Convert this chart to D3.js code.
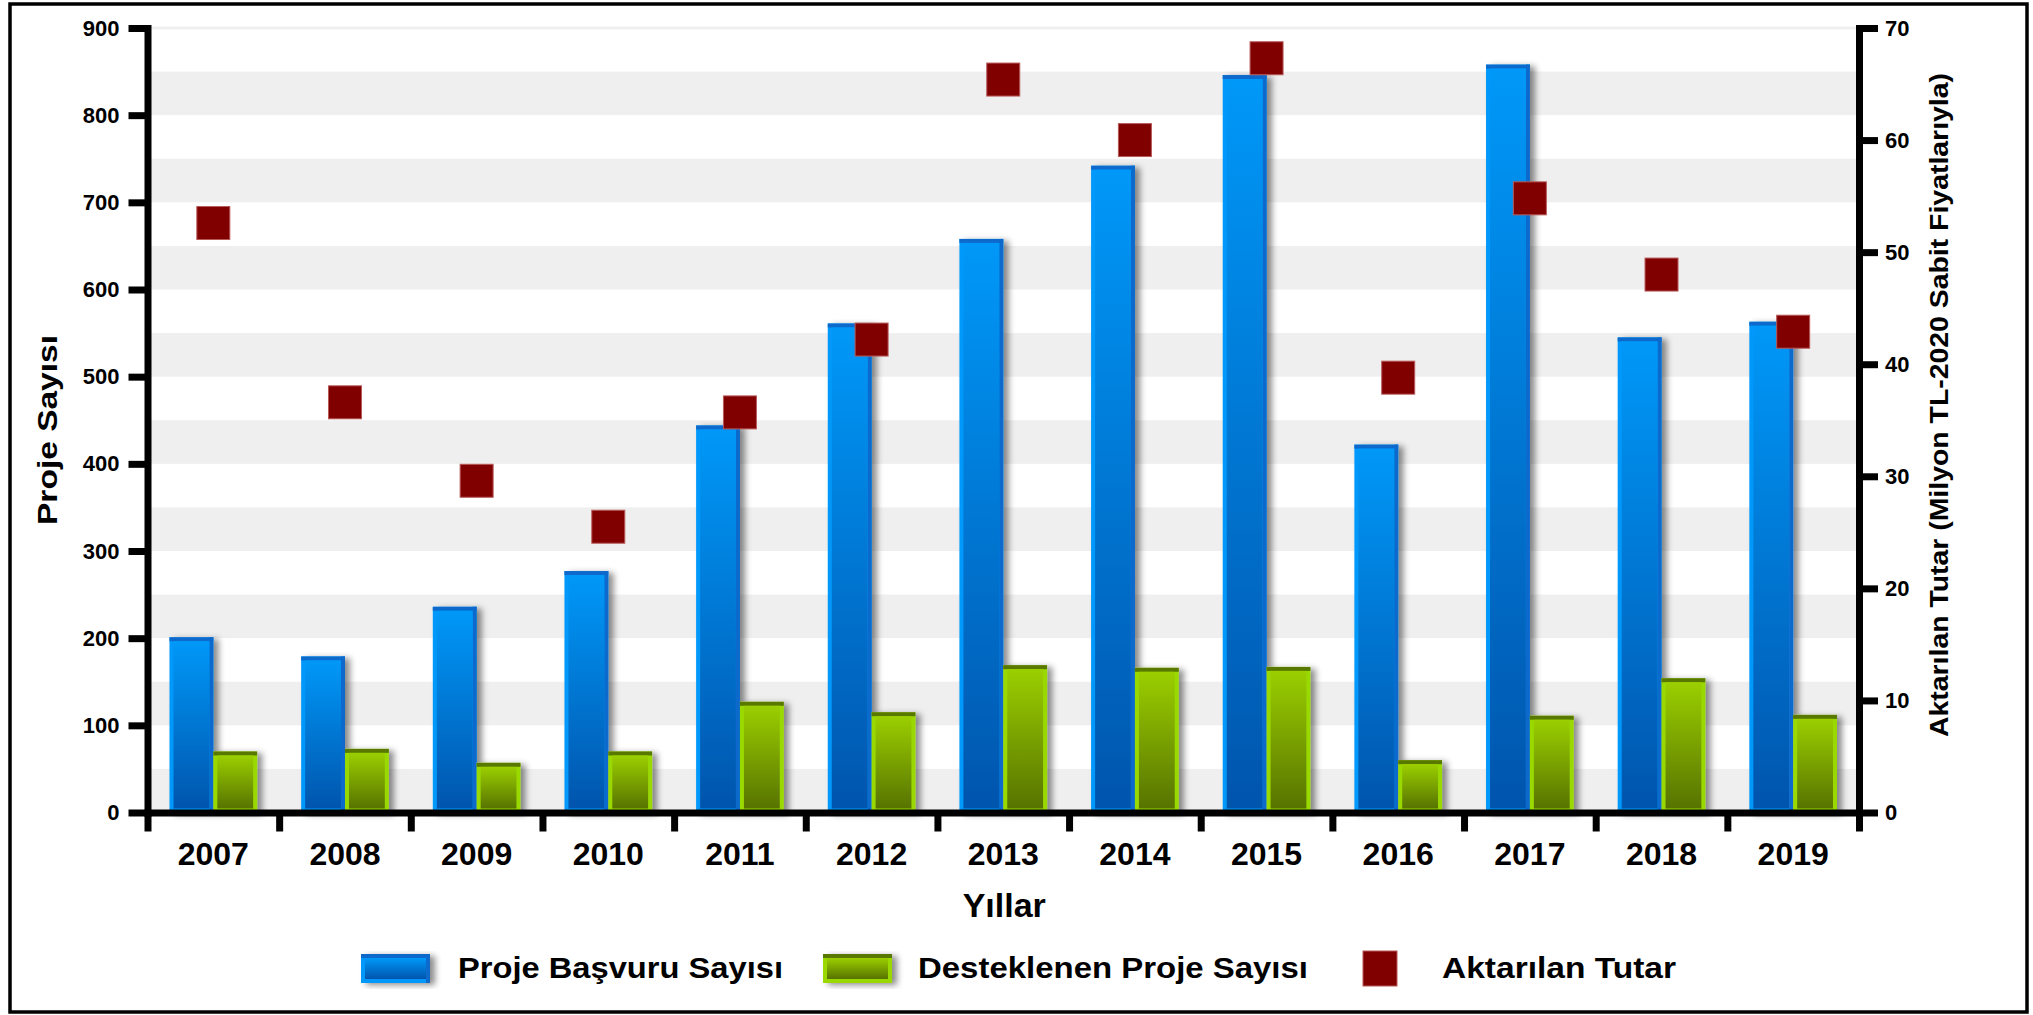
<!DOCTYPE html>
<html>
<head>
<meta charset="utf-8">
<script src="https://cdn.jsdelivr.net/npm/d3@7"></script>
<style>
  body { margin: 0; background: #fff; }
  text { font-family: "Liberation Sans", Arial, Helvetica, sans-serif; font-weight: bold; fill: #000; }
</style>
</head>
<body>
<div id="chart"></div>
<script>
// data
const years = ["2007", "2008", "2009", "2010", "2011", "2012", "2013", "2014", "2015", "2016", "2017", "2018", "2019"];
const basvuru = [201, 179, 236, 277, 444, 561, 658, 742, 846, 422, 858, 545, 563];
const desteklenen = [70, 73, 57, 70, 127, 115, 169, 166, 167, 60, 111, 154, 112];
const tutar = [52.6, 36.6, 29.6, 25.5, 35.7, 42.2, 65.4, 60.0, 67.3, 38.8, 54.8, 48.0, 42.9];
const leftTicks = [0, 100, 200, 300, 400, 500, 600, 700, 800, 900];
const rightTicks = [0, 10, 20, 30, 40, 50, 60, 70];
const seriesNames = ["Proje Başvuru Sayısı", "Desteklenen Proje Sayısı", "Aktarılan Tutar"];

const width = 2033, height = 1015;
const margin = {left: 147.5, right: 1859, top: 28, bottom: 812.5};

const svg = d3.select("#chart")
    .append("svg")
    .attr("width", width)
    .attr("height", height);

const defs = svg.append("defs");

// gradients for the bar bodies
const grads = [
    {id: "gBlue", top: "#0098f8", bottom: "#0055ad"},
    {id: "gGreen", top: "#9bcf00", bottom: "#577300"}
];
grads.forEach(g => {
    const lg = defs.append("linearGradient")
        .attr("id", g.id)
        .attr("x1", 0).attr("y1", 0).attr("x2", 0).attr("y2", 1);
    lg.append("stop").attr("offset", "0%").attr("stop-color", g.top);
    lg.append("stop").attr("offset", "100%").attr("stop-color", g.bottom);
});

const shadow = defs.append("filter")
    .attr("id", "shadow")
    .attr("x", "-20%").attr("y", "-10%")
    .attr("width", "150%").attr("height", "130%");
shadow.append("feDropShadow")
    .attr("dx", 5).attr("dy", 2)
    .attr("stdDeviation", 3)
    .attr("flood-color", "#000")
    .attr("flood-opacity", 0.45);

// scales
const x0 = d3.scaleBand()
    .domain(years)
    .range([margin.left, margin.right]);

const x1 = d3.scaleBand()
    .domain(["basvuru", "destek"])
    .range([22, x0.bandwidth() - 22]);

const yL = d3.scaleLinear()
    .domain([0, 900])
    .range([margin.bottom, margin.top]);

const yR = d3.scaleLinear()
    .domain([0, 70])
    .range([margin.bottom, margin.top]);

// background bands every 50
const bands = d3.range(0, 900, 100);
svg.append("g")
    .selectAll("rect")
    .data(bands)
    .enter()
    .append("rect")
    .attr("x", margin.left + 3)
    .attr("width", margin.right - margin.left - 6)
    .attr("y", d => yL(d + 50))
    .attr("height", d => yL(d) - yL(d + 50))
    .attr("fill", "#efefef");

svg.append("line")
    .attr("x1", margin.left + 3).attr("x2", margin.right - 3)
    .attr("y1", yL(900)).attr("y2", yL(900))
    .attr("stroke", "#efefef")
    .attr("stroke-width", 3);

// draws one bevelled bar
function bevelBar(g, x, y, w, h, kind) {
    const light = kind === "blue" ? "#0299fb" : "#9ad900";
    const dark = kind === "blue" ? "#0a6bcc" : "#587800";
    const b = 4;
    g.append("rect").attr("x", x).attr("y", y).attr("width", w).attr("height", h).attr("fill", light);
    g.append("rect").attr("x", x).attr("y", y).attr("width", w).attr("height", Math.min(b, h)).attr("fill", dark);
    if (kind === "blue") {
        g.append("rect").attr("x", x + w - b).attr("y", y).attr("width", b).attr("height", h).attr("fill", dark);
    }
    if (h > 2 * b) {
        g.append("rect")
            .attr("x", x + b).attr("y", y + b)
            .attr("width", w - 2 * b).attr("height", h - 2 * b)
            .attr("fill", kind === "blue" ? "url(#gBlue)" : "url(#gGreen)");
    }
}

const barsGroup = svg.append("g").attr("filter", "url(#shadow)");

years.forEach((yr, i) => {
    const g = barsGroup.append("g");
    bevelBar(g, x0(yr) + x1("basvuru"), yL(basvuru[i]), x1.bandwidth(), margin.bottom - yL(basvuru[i]), "blue");
    bevelBar(g, x0(yr) + x1("destek"), yL(desteklenen[i]), x1.bandwidth(), margin.bottom - yL(desteklenen[i]), "green");
});

// amount markers
const sq = 33;
svg.append("g")
    .selectAll("rect")
    .data(tutar)
    .enter()
    .append("rect")
    .attr("x", (d, i) => x0(years[i]) + x0.bandwidth() / 2 - sq / 2)
    .attr("y", d => yR(d) - sq / 2)
    .attr("width", sq)
    .attr("height", sq)
    .attr("fill", "#800000")
    .attr("stroke", "#b85a5a")
    .attr("stroke-width", 1);

// axes
function styleAxis(g, size) {
    g.select(".domain").attr("stroke-width", 7).attr("stroke-linecap", "square");
    g.selectAll(".tick line").attr("stroke-width", 7);
    g.selectAll("text").style("font-size", size + "px").style("font-family", "'Liberation Sans', Arial, sans-serif");
}

svg.append("g")
    .attr("transform", `translate(${margin.left},0)`)
    .call(d3.axisLeft(yL).tickValues(leftTicks).tickSize(19).tickSizeOuter(0).tickPadding(9))
    .call(g => styleAxis(g, 22));

svg.append("g")
    .attr("transform", `translate(${margin.right},0)`)
    .call(d3.axisRight(yR).tickValues(rightTicks).tickSize(19).tickSizeOuter(0).tickPadding(7))
    .call(g => styleAxis(g, 22));

// x axis line with ticks at the category borders
const xEdge = d3.scaleLinear().domain([0, years.length]).range([margin.left, margin.right]);
svg.append("g")
    .attr("transform", `translate(0,${margin.bottom})`)
    .call(d3.axisBottom(xEdge).ticks(years.length).tickFormat("").tickSize(19).tickSizeOuter(0))
    .call(g => styleAxis(g, 22));

svg.append("g")
    .attr("transform", `translate(0,${margin.bottom})`)
    .call(d3.axisBottom(x0).tickSize(0))
    .call(g => g.select(".domain").remove())
    .call(g => g.selectAll("text")
        .attr("dy", null)
        .attr("y", 52.5)
        .style("font-size", "32px")
        .style("font-family", "'Liberation Sans', Arial, sans-serif"));

// axis titles
svg.append("text")
    .attr("x", (margin.left + margin.right) / 2 + 1)
    .attr("y", 917)
    .attr("text-anchor", "middle")
    .style("font-size", "34px")
    .text("Yıllar");

svg.append("text")
    .attr("transform", "translate(57,430) rotate(-90)")
    .attr("text-anchor", "middle")
    .attr("textLength", 190)
    .attr("lengthAdjust", "spacingAndGlyphs")
    .style("font-size", "27px")
    .text("Proje Sayısı");

svg.append("text")
    .attr("transform", "translate(1948,405) rotate(-90)")
    .attr("text-anchor", "middle")
    .attr("textLength", 664)
    .attr("lengthAdjust", "spacingAndGlyphs")
    .style("font-size", "26px")
    .text("Aktarılan Tutar (Milyon TL-2020 Sabit Fiyatlarıyla)");

// legend
const legend = svg.append("g");
const legendItems = [
    {name: seriesNames[0], kind: "blue", sx: 361, tx: 458, tl: 325},
    {name: seriesNames[1], kind: "green", sx: 823, tx: 918, tl: 390},
    {name: seriesNames[2], kind: "square", sx: 1363, tx: 1442, tl: 234}
];
legendItems.forEach(item => {
    if (item.kind === "square") {
        legend.append("rect")
            .attr("x", item.sx).attr("y", 951)
            .attr("width", 34).attr("height", 35)
            .attr("fill", "#800000")
            .attr("stroke", "#b85a5a")
            .attr("stroke-width", 1);
    } else {
        const g = legend.append("g").attr("filter", "url(#shadow)");
        bevelBar(g, item.sx, 954, 69, 29, item.kind);
    }
    legend.append("text")
        .attr("x", item.tx)
        .attr("y", 978)
        .attr("textLength", item.tl)
        .attr("lengthAdjust", "spacingAndGlyphs")
        .style("font-size", "30px")
        .text(item.name);
});

// outer frame
svg.append("rect")
    .attr("x", 10).attr("y", 4)
    .attr("width", 2017).attr("height", 1008)
    .attr("fill", "none")
    .attr("stroke", "#000")
    .attr("stroke-width", 3.5);
</script>
</body>
</html>
